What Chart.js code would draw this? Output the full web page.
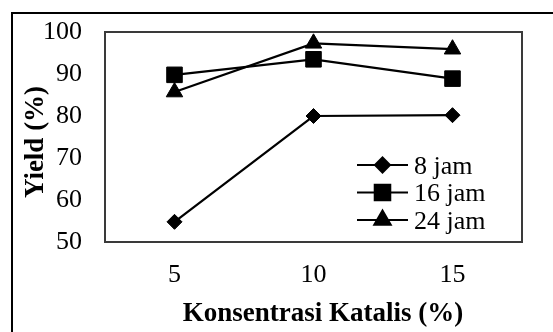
<!DOCTYPE html>
<html>
<head>
<meta charset="utf-8">
<script src="https://cdn.jsdelivr.net/npm/chart.js@4.4.0/dist/chart.umd.min.js"></script>
<style>
  html, body { margin: 0; padding: 0; background: #fff; }
  #wadah { width: 553px; height: 332px; }
</style>
</head>
<body>
<div id="wadah"><canvas id="myChart" width="553" height="332"></canvas></div>
<script>
    // data
    const konsentrasi = ['5', '10', '15'];
    const label8 = '8 jam';
    const label16 = '16 jam';
    const label24 = '24 jam';
    const yield8 = [54.8, 80.0, 80.2];
    const yield16 = [89.8, 93.5, 88.9];
    const yield24 = [85.7, 97.3, 95.9];
    const sumbuY = [50, 60, 70, 80, 90, 100];
    const judulX = 'Konsentrasi Katalis (%)';
    const judulY = 'Yield (%)';

    const huruf = '"Liberation Serif", "Times New Roman", serif';

    // bingkai luar + bingkai area plot + judul sumbu
    const bingkai = {
        id: 'bingkai',
        beforeDraw(chart) {
            const ctx = chart.ctx;
            ctx.save();
            ctx.fillStyle = '#fff';
            ctx.fillRect(0, 0, chart.width, chart.height);
            ctx.strokeStyle = '#000';
            ctx.lineWidth = 2;
            ctx.beginPath();
            ctx.moveTo(12, chart.height);
            ctx.lineTo(12, 13);
            ctx.lineTo(chart.width, 13);
            ctx.stroke();

            ctx.fillStyle = '#000';
            ctx.font = 'bold 27px ' + huruf;
            ctx.textAlign = 'center';
            ctx.textBaseline = 'alphabetic';
            ctx.fillText(judulX, 323, 321);

            ctx.translate(43, 142);
            ctx.rotate(-Math.PI / 2);
            ctx.fillText(judulY, 0, 0);
            ctx.restore();
        },
        beforeDatasetsDraw(chart) {
            const a = chart.chartArea;
            const ctx = chart.ctx;
            ctx.save();
            ctx.strokeStyle = '#3a3a3a';
            ctx.lineWidth = 2;
            ctx.strokeRect(a.left, a.top, a.right - a.left, a.bottom - a.top);
            ctx.restore();
        }
    };

    // legenda di dalam area plot: garis + penanda + teks
    const legenda = {
        id: 'legenda',
        afterDatasetsDraw(chart) {
            const ctx = chart.ctx;
            const x0 = 357, x1 = 408, yAwal = 165, jarak = 27.5;
            chart.data.datasets.forEach(function (ds, i) {
                const y = yAwal + i * jarak;
                ctx.save();
                ctx.strokeStyle = '#000';
                ctx.lineWidth = 2;
                ctx.beginPath();
                ctx.moveTo(x0, y);
                ctx.lineTo(x1, y);
                ctx.stroke();
                ctx.fillStyle = '#000';
                Chart.helpers.drawPoint(ctx, {
                    pointStyle: ds.pointStyle,
                    radius: ds.pointRadius,
                    borderWidth: 1,
                    rotation: 0
                }, (x0 + x1) / 2, y);
                ctx.font = '26px ' + huruf;
                ctx.textBaseline = 'alphabetic';
                ctx.textAlign = 'left';
                ctx.fillText(ds.label, x1 + 6, y + 8.5);
                ctx.restore();
            });
        }
    };

    function garis(label, data, gaya, r) {
        return {
            label: label,
            data: data,
            borderColor: '#000',
            backgroundColor: '#000',
            borderWidth: 2.2,
            pointStyle: gaya,
            pointRadius: r,
            pointBackgroundColor: '#000',
            pointBorderColor: '#000',
            pointBorderWidth: 1,
            tension: 0,
            clip: false
        };
    }

    const dados = {
        labels: konsentrasi,
        datasets: [
            garis(label8, yield8, 'rectRot', 7.5),
            garis(label16, yield16, 'rect', 11),
            garis(label24, yield24, 'triangle', 9.5)
        ]
    };

    const config = {
        type: 'line',
        data: dados,
        options: {
            responsive: false,
            animation: false,
            layout: { padding: { left: 20, top: 32, right: 31, bottom: 0 } },
            plugins: {
                legend: { display: false },
                tooltip: { enabled: false }
            },
            scales: {
                x: {
                    type: 'category',
                    offset: true,
                    grid: { display: false, drawTicks: false },
                    border: { display: false },
                    afterFit(axis) { axis.height = 90; },
                    ticks: {
                        color: '#000',
                        padding: 20,
                        maxRotation: 0,
                        font: { family: huruf, size: 26, lineHeight: 1 }
                    }
                },
                y: {
                    min: sumbuY[0],
                    max: sumbuY[sumbuY.length - 1],
                    afterBuildTicks(axis) {
                        axis.ticks = sumbuY.map(v => ({ value: v }));
                    },
                    afterFit(axis) { axis.width = 85; },
                    grid: { display: false, drawTicks: false },
                    border: { display: false },
                    ticks: {
                        color: '#000',
                        padding: 23,
                        font: { family: huruf, size: 26, lineHeight: 0.3 }
                    }
                }
            }
        },
        plugins: [bingkai, legenda]
    };

    const myChart = new Chart(document.getElementById('myChart'), config);
</script>
</body>
</html>
